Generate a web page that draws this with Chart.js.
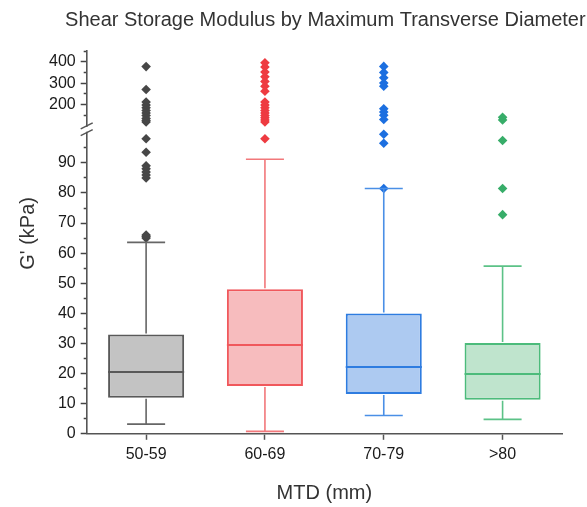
<!DOCTYPE html>
<html>
<head>
<meta charset="utf-8">
<script src="https://cdn.jsdelivr.net/npm/chart.js@4/dist/chart.umd.min.js"></script>
<style>
  html, body { margin: 0; padding: 0; background: #fff; }
  #wrap { width: 587px; height: 507px; }
</style>
</head>
<body>
<div id="wrap"><canvas id="chart" width="587" height="507"></canvas></div>
<script>
// ----- DATA ----- //
const categories = ['50-59', '60-69', '70-79', '>80'];
const q1 = [12, 15.9, 13.2, 11.3];
const median = [20.5, 29.5, 22.2, 19.9];
const q3 = [33, 48, 40, 30.2];
const whiskerLow = [3.2, 0.8, 6.1, 4.8];
const whiskerHigh = [63.6, 91.2, 81.5, 55.7];
const means = [29.9, 40.7, 34.8, 23.6];
const outliers5059 = [65, 65.5, 66, 85, 86, 87, 88, 89, 93.5, 98, 118, 125, 135, 148, 160, 172, 185, 198, 212, 270, 377];
const outliers6069 = [98, 118, 128, 138, 148, 160, 172, 185, 198, 212, 262, 285, 308, 330, 352, 375, 395];
const outliers7079 = [81.5, 96.5, 99.5, 130, 150, 165, 180, 285, 300, 325, 350, 378];
const outliers80 = [72.8, 81.5, 97.4, 128, 140];
const breakAt = 100;

// ----- STYLES ----- //
const fills = ['#c3c3c3', '#f7bcbe', '#adcaf1', '#bfe4cd'];
const borders = ['#595959', '#f0585c', '#2e7ce0', '#4cbb7b'];
const whiskerColors = ['#666666', '#f2787b', '#4a8fe6', '#5cc287'];
const pointColors = ['#474747', '#ee3b41', '#1c6fe0', '#37ad69'];
const FONT = 'Liberation Sans, Arial, sans-serif';

const allOutliers = [outliers5059, outliers6069, outliers7079, outliers80];

function pointSet(i, values, axis) {
    return {
        type: 'line',
        showLine: false,
        yAxisID: axis,
        data: values.map(v => ({ x: categories[i], y: v })),
        pointStyle: 'rectRot',
        pointRadius: 4.8,
        pointBackgroundColor: pointColors[i],
        pointBorderColor: pointColors[i],
        pointBorderWidth: 0,
        clip: false
    };
}

const datasets = [{
    type: 'bar',
    data: q1.map((v, i) => [v, q3[i]]),
    backgroundColor: fills,
    borderColor: borders,
    borderWidth: 2,
    borderSkipped: false,
    barPercentage: 0.64,
    categoryPercentage: 1,
    yAxisID: 'y'
}, {
    type: 'line',
    showLine: false,
    yAxisID: 'y',
    data: means.map((v, i) => ({ x: categories[i], y: v })),
    pointStyle: 'rect',
    pointRadius: 3.6,
    pointBackgroundColor: 'rgba(0,0,0,0)',
    pointBorderColor: borders,
    pointBorderWidth: 1.2,
    clip: false
}];
allOutliers.forEach((arr, i) => {
    datasets.push(pointSet(i, arr.filter(v => v <= breakAt), 'y'));
    datasets.push(pointSet(i, arr.filter(v => v > breakAt), 'y2'));
});

// ----- WHISKERS, MEDIANS, TITLES, AXIS BREAK ----- //
const boxPlugin = {
    id: 'boxExtras',
    afterDatasetsDraw(chart) {
        const ctx = chart.ctx;
        const x = chart.scales.x, y = chart.scales.y;
        const bars = chart.getDatasetMeta(0).data;
        ctx.save();
        categories.forEach((c, i) => {
            const cx = x.getPixelForValue(i);
            const w = bars[i].width;
            // whiskers
            ctx.strokeStyle = whiskerColors[i];
            ctx.lineWidth = 1.6;
            ctx.beginPath();
            ctx.moveTo(cx, y.getPixelForValue(q3[i]) - 1);
            ctx.lineTo(cx, y.getPixelForValue(whiskerHigh[i]));
            ctx.moveTo(cx, y.getPixelForValue(q1[i]) + 1);
            ctx.lineTo(cx, y.getPixelForValue(whiskerLow[i]));
            ctx.moveTo(cx - w / 4, y.getPixelForValue(whiskerHigh[i]));
            ctx.lineTo(cx + w / 4, y.getPixelForValue(whiskerHigh[i]));
            ctx.moveTo(cx - w / 4, y.getPixelForValue(whiskerLow[i]));
            ctx.lineTo(cx + w / 4, y.getPixelForValue(whiskerLow[i]));
            ctx.stroke();
            // median
            ctx.strokeStyle = borders[i];
            ctx.lineWidth = 2;
            ctx.beginPath();
            ctx.moveTo(cx - w / 2, y.getPixelForValue(median[i]));
            ctx.lineTo(cx + w / 2, y.getPixelForValue(median[i]));
            ctx.stroke();
        });
        ctx.restore();
    },
    afterDraw(chart) {
        const ctx = chart.ctx;
        const area = chart.chartArea;
        const y = chart.scales.y, y2 = chart.scales.y2;
        ctx.save();
        // axis break: blank the gap between the two segments, then the "//" marks
        const ax = area.left;
        const gapTop = y2.getPixelForValue(breakAt);
        const gapBottom = y.top;
        ctx.fillStyle = '#fff';
        ctx.fillRect(ax - 3, gapTop + 1, 6, gapBottom - gapTop - 2);
        ctx.strokeStyle = '#555';
        ctx.lineWidth = 1.4;
        ctx.beginPath();
        ctx.moveTo(ax - 6, gapTop + 3);
        ctx.lineTo(ax + 6, gapTop - 3);
        ctx.moveTo(ax - 6, gapBottom + 3);
        ctx.lineTo(ax + 6, gapBottom - 3);
        ctx.stroke();
        // chart title
        ctx.fillStyle = '#333';
        ctx.font = '20px ' + FONT;
        ctx.textAlign = 'center';
        ctx.textBaseline = 'middle';
        ctx.fillText('Shear Storage Modulus by Maximum Transverse Diameter', (area.left + area.right) / 2 + 1, 20);
        // y axis title
        ctx.translate(28, (y2.top + y.bottom) / 2 - 9);
        ctx.rotate(-Math.PI / 2);
        ctx.fillText("G' (kPa)", 0, 0);
        ctx.restore();
    }
};

function tickDash(major) {
    return major ? [] : [0, 3, 3, 0];
}

new Chart(document.getElementById('chart'), {
    type: 'bar',
    data: { labels: categories, datasets: datasets },
    options: {
        responsive: false,
        animation: false,
        devicePixelRatio: 1,
        layout: { padding: { left: 44, right: 25, top: 51, bottom: 0 } },
        plugins: { legend: { display: false }, tooltip: { enabled: false } },
        scales: {
            x: {
                type: 'category',
                grid: { drawOnChartArea: false, offset: false, tickLength: 6, tickColor: '#555', tickWidth: 1.5 },
                border: { color: '#555', width: 1.6 },
                ticks: { color: '#1a1a1a', font: { family: FONT, size: 16 }, padding: 5 },
                title: { display: true, text: 'MTD (mm)', color: '#333', font: { family: FONT, size: 20 }, padding: { top: 12, bottom: 2 } }
            },
            y: {
                type: 'linear',
                position: 'left',
                stack: 'gaxis',
                stackWeight: 302,
                min: 0,
                max: 100,
                border: { color: '#555', width: 1.6 },
                grid: {
                    drawOnChartArea: false,
                    tickLength: 6,
                    tickWidth: 1.5,
                    tickColor: c => (c.tick && c.tick.value >= 100) ? 'rgba(0,0,0,0)' : '#444',
                    tickBorderDash: c => tickDash(c.tick && c.tick.value % 10 === 0)
                },
                ticks: {
                    stepSize: 5,
                    autoSkip: false,
                    includeBounds: false,
                    padding: 5,
                    color: '#1a1a1a',
                    font: { family: FONT, size: 16 },
                    callback: v => (v % 10 === 0 && v < 100) ? v : ''
                }
            },
            y2: {
                type: 'linear',
                position: 'left',
                stack: 'gaxis',
                stackWeight: 82,
                min: 68,
                max: 450,
                border: { color: '#555', width: 1.6 },
                grid: {
                    drawOnChartArea: false,
                    tickLength: 6,
                    tickWidth: 1.5,
                    tickColor: c => (c.tick && c.tick.value <= 100) ? 'rgba(0,0,0,0)' : '#444',
                    tickBorderDash: c => tickDash(c.tick && c.tick.value % 100 === 0)
                },
                ticks: {
                    stepSize: 50,
                    autoSkip: false,
                    includeBounds: false,
                    padding: 5,
                    color: '#1a1a1a',
                    font: { family: FONT, size: 16 },
                    callback: v => (v % 100 === 0 && v > 100 && v < 450) ? v : ''
                }
            }
        }
    },
    plugins: [boxPlugin]
});
</script>
</body>
</html>
